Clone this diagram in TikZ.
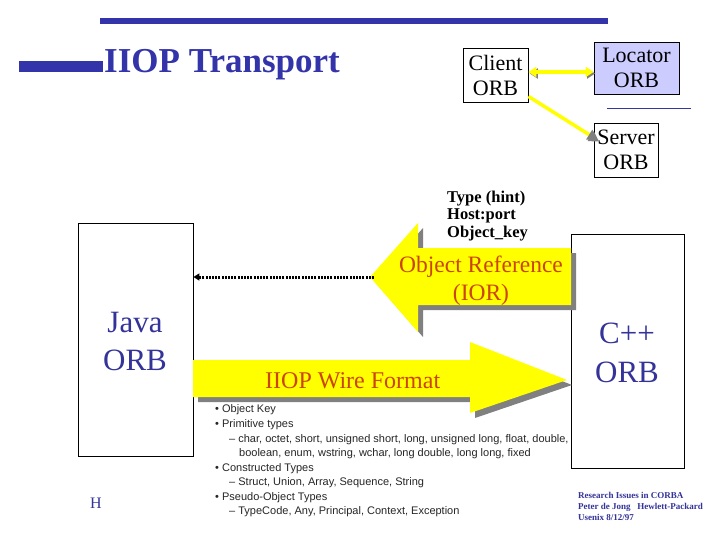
\documentclass[tikz,border=0pt]{standalone}
\usepackage{fontspec}
\setmainfont{Liberation Serif}
\newfontfamily\arialf{Liberation Sans}
\usetikzlibrary{arrows.meta,calc}
\definecolor{titleblue}{HTML}{3333AA}
\definecolor{lav}{HTML}{CCCCFF}
\definecolor{ora}{HTML}{CC4400}
\definecolor{shad}{HTML}{808080}
\definecolor{ylw}{HTML}{FFFF00}
\definecolor{foot}{HTML}{333399}
\begin{document}
\begin{tikzpicture}[x=1pt,y=-1pt,
  orbbox/.style={draw=black, line width=0.8pt, align=center, inner sep=0pt, font=\fontsize{22}{25}\selectfont},
  bigbox/.style={draw=black, line width=0.8pt, inner sep=0pt},
  orbtxt/.style={anchor=base, inner sep=0pt, text=foot, font=\fontsize{31}{38}\selectfont},
  bul/.style={anchor=base west, inner sep=0pt, font=\arialf\fontsize{11}{12}\selectfont, text=black!85},
  hint/.style={anchor=base west, inner sep=0pt, font=\bfseries\fontsize{16.5}{18}\selectfont},
  foottxt/.style={anchor=base west, inner sep=0pt, font=\bfseries\fontsize{9}{10}\selectfont, text=foot},
  bigtxt/.style={inner sep=0pt, text=ora},
  yarrow/.style={line width=3.5pt, ylw, preaction={draw=shad, transform canvas={shift={(1.5,1.5)}}}}
]
\useasboundingbox[fill=white] (0,0) rectangle (720,540);
% title bars
\fill[titleblue] (100,18) rectangle (608,24);
\fill[titleblue] (19,61) rectangle (103,72);
\node[anchor=base west, inner sep=0pt, text=titleblue, font=\bfseries\fontsize{35}{38}\selectfont] (title) at (104,73) {IIOP Transport};
% small ORB boxes
\node[orbbox, minimum width=65pt, minimum height=54pt] (client) at (495.5,75) {Client\\ORB};
\node[orbbox, fill=lav, minimum width=85pt, minimum height=52pt] (locator) at (636.5,68) {Locator\\ORB};
\node[orbbox, minimum width=64pt, minimum height=54pt] (server) at (626,150) {Server\\ORB};
\draw[titleblue, line width=0.8pt] (607,108) -- (691,108);
\coordinate (cl1) at (client.east |- 0,72);
\draw[yarrow, {Triangle[length=8pt,width=10pt]}-{Triangle[length=8pt,width=10pt]}] (cl1) -- (locator.west |- cl1);
\coordinate (cs1) at ($(client.south east)+(0,-6)$);
\coordinate (cs2) at ($(server.west)+(4,-10)$);
\draw[yarrow, -{Triangle[length=10pt,width=11pt,color=shad,fill=shad]}] (cs1) -- (cs2);
% hint text
\node[hint] (h1) at (447,203) {Type (hint)};
\node[hint] (h2) at (447,220) {Host:port};
\node[hint] (h3) at (447,237) {Object\_key};
% big boxes
\node[bigbox, minimum width=115pt, minimum height=233pt] (java) at (135.5,339.5) {};
\node[orbtxt] (java1) at (135,332) {Java};
\node[orbtxt] (java2) at (135,370) {ORB};
\node[bigbox, minimum width=113pt, minimum height=234pt] (cpp) at (627.5,351) {};
\node[orbtxt] (cpp1) at (627,343) {C++};
\node[orbtxt] (cpp2) at (627,382) {ORB};
% Object reference arrow
\fill[shad] (375,282) -- (423,228) -- (423,253) -- (576,253) -- (576,310) -- (423,310) -- (423,337) -- cycle;
\fill[ylw] (370,277) -- (418,223) -- (418,248) -- (571,248) -- (571,305) -- (418,305) -- (418,332) -- cycle;
\coordinate (iortip) at (374,277);
\draw[line width=3pt, dash pattern=on 2pt off 1.2pt, -{Triangle[length=6pt,width=7pt]}] (iortip) -- (java.east |- iortip);
\node[bigtxt, anchor=base, font=\fontsize{23.5}{26}\selectfont] (ior1) at (481,272) {Object Reference};
\node[bigtxt, anchor=base, font=\fontsize{23.5}{26}\selectfont] (ior2) at (481,300) {(IOR)};
% IIOP wire arrow
\fill[shad] (198,365) -- (475,365) -- (475,347) -- (572,385) -- (475,418) -- (475,402) -- (198,402) -- cycle;
\fill[ylw] (193,360) -- (470,360) -- (470,342) -- (567,380) -- (470,413) -- (470,397) -- (193,397) -- cycle;
\node[bigtxt, anchor=base west, font=\fontsize{24}{26}\selectfont] (wire) at (265,388) {IIOP Wire Format};
% bullet list
\node[bul] (b1) at (215,412) {\textbullet\ Object Key};
\node[bul] (b2) at (215,427) {\textbullet\ Primitive types};
\node[bul] (b3) at (229,442) {\textendash\ char, octet, short, unsigned short, long, unsigned long, float, double,};
\node[bul] (b4) at (239,456) {boolean, enum, wstring, wchar, long double, long long, fixed};
\node[bul] (b5) at (215,471) {\textbullet\ Constructed Types};
\node[bul] (b6) at (229,485) {\textendash\ Struct, Union, Array, Sequence, String};
\node[bul] (b7) at (215,500) {\textbullet\ Pseudo-Object Types};
\node[bul] (b8) at (229,514) {\textendash\ TypeCode, Any, Principal, Context, Exception};
% footer
\node[anchor=base west, inner sep=0pt, text=foot, font=\fontsize{16}{16}\selectfont] (hlogo) at (90,508) {H};
\node[foottxt] (f1) at (578,498) {Research Issues in CORBA};
\node[foottxt] (f2) at (578,509) {Peter de Jong\ \ \ Hewlett-Packard};
\node[foottxt] (f3) at (578,520) {Usenix 8/12/97};
\end{tikzpicture}
\end{document}
